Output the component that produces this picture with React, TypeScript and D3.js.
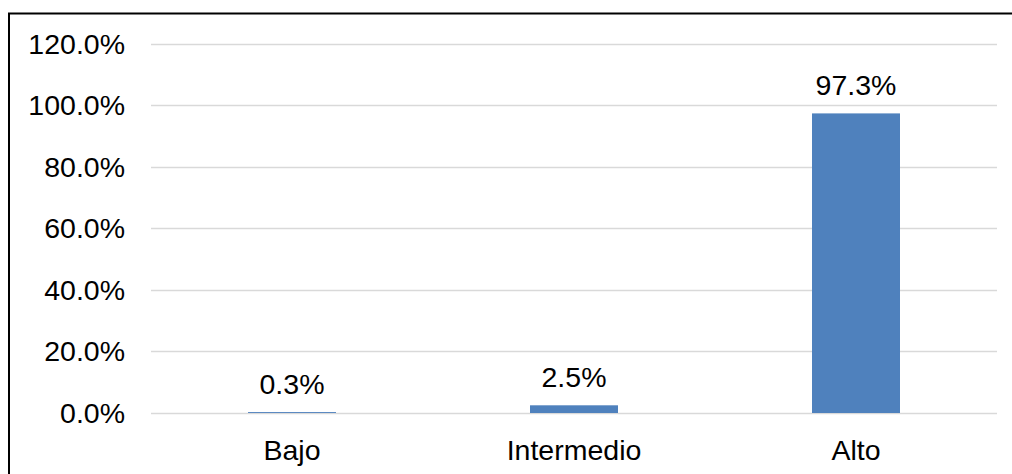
import * as d3 from 'd3';

const categories = ['Bajo', 'Intermedio', 'Alto'];
const values = [0.003, 0.025, 0.973];
const yTicks = [0, 0.2, 0.4, 0.6, 0.8, 1.0, 1.2];

const width = 1012;
const height = 474;
const font = 'Arial, "Liberation Sans", sans-serif';
const fontSize = 28.5;

export default function App() {
  const x = d3.scaleBand<string>()
    .domain(categories)
    .range([151, 997])
    .paddingInner(0.688)
    .paddingOuter(0.344);

  const y = d3.scaleLinear().domain([0, 1.2]).range([413, 43.5]);

  const fmt = (v: number) => (v * 100).toFixed(1) + '%';

  return (
    <svg
      width={width}
      height={height}
      style={{ position: 'absolute', left: 0, top: 0, background: '#fff' }}
      fontFamily={font}
    >
      <rect x={9} y={13.5} width={1020} height={480} fill="#fff" stroke="#000" strokeWidth={2} />

      {yTicks.map(t => (
        <g key={t}>
          <line x1={151} x2={997} y1={Math.round(y(t)) + 0.5} y2={Math.round(y(t)) + 0.5} stroke="#d9d9d9" strokeWidth={1.5} />
          <text x={125} y={y(t) + 10} textAnchor="end" fontSize={fontSize} fill="#000">
            {fmt(t)}
          </text>
        </g>
      ))}

      {categories.map((c, i) => (
        <g key={c}>
          <rect
            x={x(c)}
            y={y(values[i])}
            width={x.bandwidth()}
            height={y(0) - y(values[i])}
            fill="#4f81bd"
          />
          <text
            x={(x(c) ?? 0) + x.bandwidth() / 2}
            y={y(values[i]) - 18}
            textAnchor="middle"
            fontSize={fontSize}
            fill="#000"
          >
            {fmt(values[i])}
          </text>
          <text
            x={(x(c) ?? 0) + x.bandwidth() / 2}
            y={460}
            textAnchor="middle"
            fontSize={fontSize}
            fill="#000"
          >
            {c}
          </text>
        </g>
      ))}
    </svg>
  );
}
